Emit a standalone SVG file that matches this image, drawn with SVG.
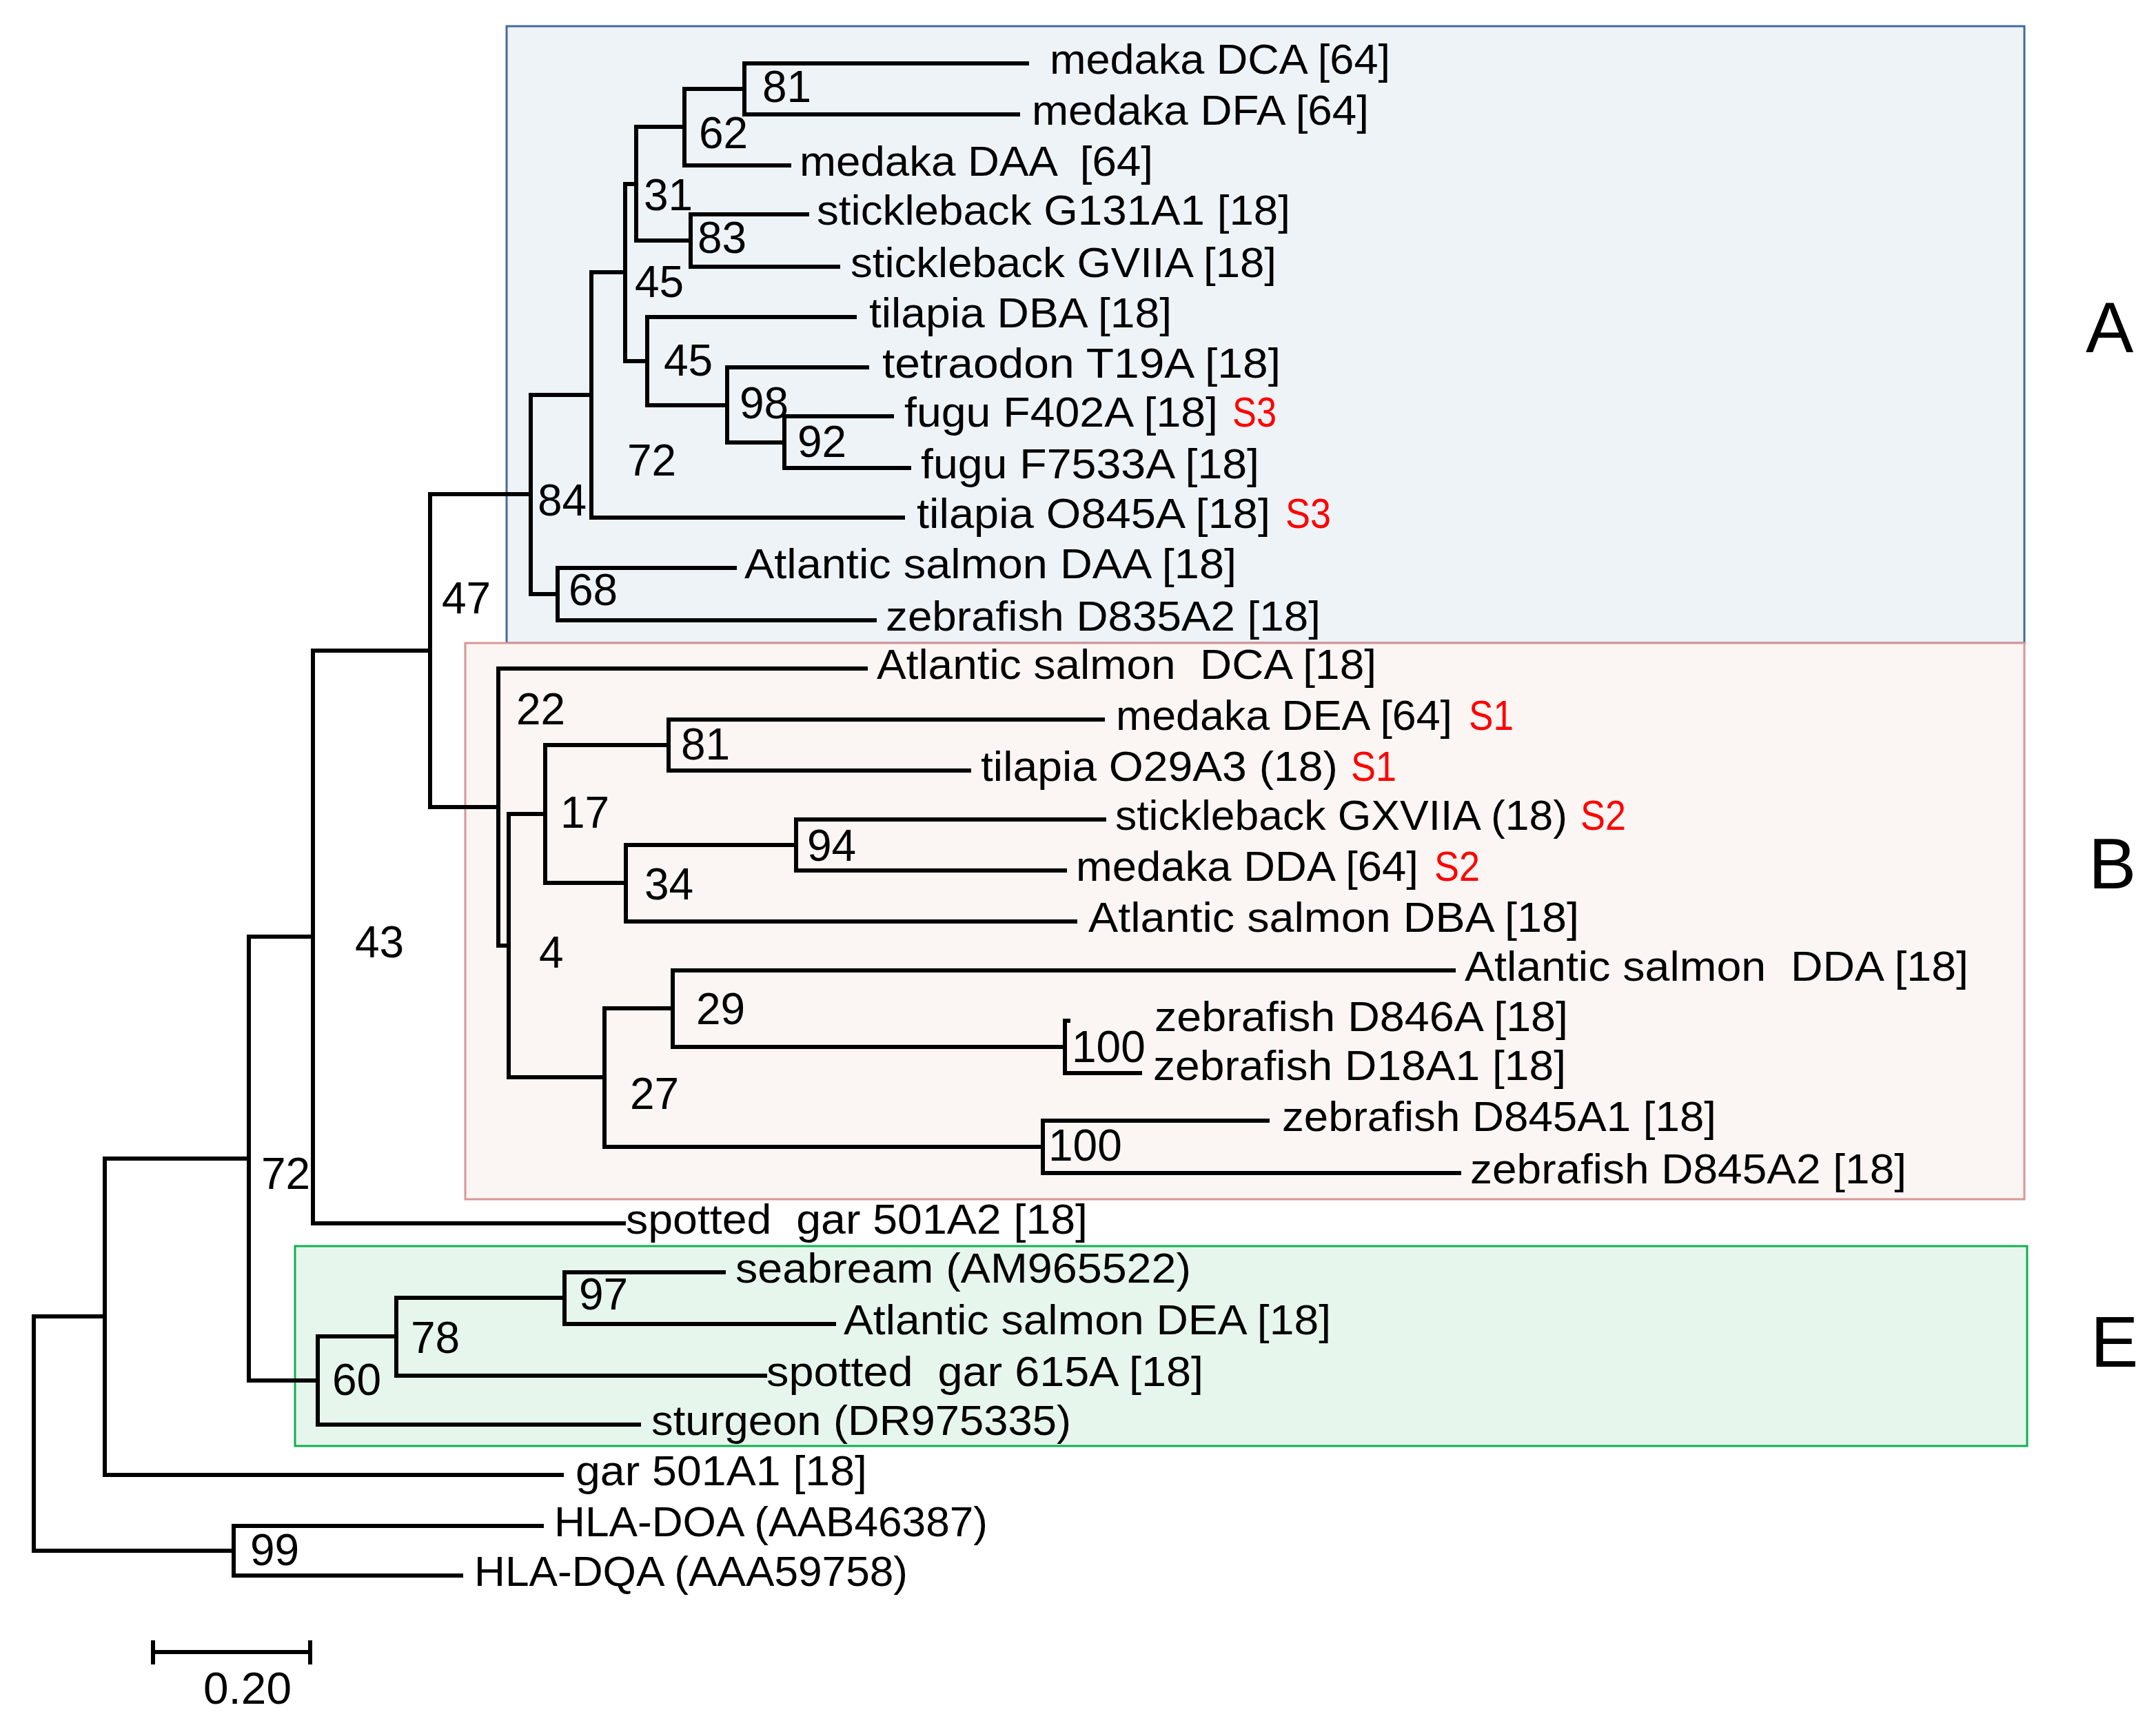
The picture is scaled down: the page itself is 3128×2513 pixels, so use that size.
<svg xmlns="http://www.w3.org/2000/svg" width="3128" height="2513" viewBox="0 0 3128 2513" xml:space="preserve">
<style>
text{font-family:"Liberation Sans",Arial,sans-serif;fill:#000;white-space:pre}
.lbl{font-size:61px}
.num{font-size:64px}
.red{font-size:61px;fill:#ff0000}
.clade{font-size:104px}
.br{fill:none;stroke:#000;stroke-width:6;stroke-linejoin:miter;stroke-linecap:square}
</style>
<rect width="3128" height="2513" fill="#ffffff"/>
<g id="clade-boxes">
<rect id="box-A" x="735" y="38" width="2202" height="895" fill="#eef3f8" stroke="#46699a" stroke-width="3"/>
<rect id="box-B" x="675" y="933" width="2262" height="807" fill="#fbf6f3" stroke="#da9696" stroke-width="3"/>
<rect id="box-E" x="428" y="1808" width="2513" height="290" fill="#e6f6ec" stroke="#10b050" stroke-width="3"/>
</g>
<g id="connectors">
<path class="br" d="M1490,92 H1080 V166 H1477"/>
<path class="br" d="M1080,129 H993 V240 H1145"/>
<path class="br" d="M1171,311 H1002 V387 H1216"/>
<path class="br" d="M993,184 H923 V349 H1002"/>
<path class="br" d="M1294,604 H1138 V679 H1319"/>
<path class="br" d="M1258,533 H1055 V642 H1138"/>
<path class="br" d="M1240,460 H939 V588 H1055"/>
<path class="br" d="M923,267 H907 V524 H939"/>
<path class="br" d="M907,395 H858 V751 H1310"/>
<path class="br" d="M1066,824 H809 V900 H1269"/>
<path class="br" d="M858,573 H770 V862 H809"/>
<path class="br" d="M1600,1044 H970 V1118 H1406"/>
<path class="br" d="M1602,1189 H1155 V1263 H1545"/>
<path class="br" d="M1155,1226 H908 V1337 H1560"/>
<path class="br" d="M970,1081 H791 V1281 H908"/>
<path class="br" d="M1550,1481 H1545 V1557 H1654"/>
<path class="br" d="M2109,1408 H976 V1519 H1545"/>
<path class="br" d="M1839,1626 H1513 V1702 H2117"/>
<path class="br" d="M976,1463 H877 V1664 H1513"/>
<path class="br" d="M791,1181 H738 V1563 H877"/>
<path class="br" d="M1256,970 H723 V1372 H738"/>
<path class="br" d="M770,717 H624 V1171 H723"/>
<path class="br" d="M624,944 H454 V1775 H905"/>
<path class="br" d="M1050,1846 H819 V1921 H1210"/>
<path class="br" d="M819,1883 H575 V1996 H1110"/>
<path class="br" d="M575,1939 H461 V2067 H927"/>
<path class="br" d="M454,1359 H361 V2003 H461"/>
<path class="br" d="M361,1681 H152 V2140 H815"/>
<path class="br" d="M786,2214 H339 V2286 H669"/>
<path class="br" d="M152,1910 H49 V2250 H339"/>
</g>
<g id="leaves">
<g id="leaf-medaka-DCA"><text class="lbl" x="1523" y="107" textLength="494" lengthAdjust="spacingAndGlyphs">medaka DCA [64]</text></g>
<g id="leaf-medaka-DFA"><text class="lbl" x="1497" y="181" textLength="489" lengthAdjust="spacingAndGlyphs">medaka DFA [64]</text></g>
<g id="leaf-medaka-DAA"><text class="lbl" x="1160" y="255" textLength="513" lengthAdjust="spacingAndGlyphs">medaka DAA  [64]</text></g>
<g id="leaf-stickleback-G131A1"><text class="lbl" x="1185" y="326" textLength="687" lengthAdjust="spacingAndGlyphs">stickleback G131A1 [18]</text></g>
<g id="leaf-stickleback-GVIIA"><text class="lbl" x="1234" y="402" textLength="618" lengthAdjust="spacingAndGlyphs">stickleback GVIIA [18]</text></g>
<g id="leaf-tilapia-DBA"><text class="lbl" x="1261" y="475" textLength="439" lengthAdjust="spacingAndGlyphs">tilapia DBA [18]</text></g>
<g id="leaf-tetraodon-T19A"><text class="lbl" x="1280" y="548" textLength="578" lengthAdjust="spacingAndGlyphs">tetraodon T19A [18]</text></g>
<g id="leaf-fugu-F402A"><text class="lbl" x="1312" y="619" textLength="455" lengthAdjust="spacingAndGlyphs">fugu F402A [18]</text><text class="red" x="1788" y="619" textLength="64" lengthAdjust="spacingAndGlyphs">S3</text></g>
<g id="leaf-fugu-F7533A"><text class="lbl" x="1336" y="694" textLength="491" lengthAdjust="spacingAndGlyphs">fugu F7533A [18]</text></g>
<g id="leaf-tilapia-O845A"><text class="lbl" x="1330" y="766" textLength="513" lengthAdjust="spacingAndGlyphs">tilapia O845A [18]</text><text class="red" x="1865" y="766" textLength="66" lengthAdjust="spacingAndGlyphs">S3</text></g>
<g id="leaf-salmon-DAA"><text class="lbl" x="1080" y="839" textLength="714" lengthAdjust="spacingAndGlyphs">Atlantic salmon DAA [18]</text></g>
<g id="leaf-zebrafish-D835A2"><text class="lbl" x="1285" y="915" textLength="631" lengthAdjust="spacingAndGlyphs">zebrafish D835A2 [18]</text></g>
<g id="leaf-salmon-DCA"><text class="lbl" x="1272" y="985" textLength="725" lengthAdjust="spacingAndGlyphs">Atlantic salmon  DCA [18]</text></g>
<g id="leaf-medaka-DEA"><text class="lbl" x="1619" y="1059" textLength="488" lengthAdjust="spacingAndGlyphs">medaka DEA [64]</text><text class="red" x="2131" y="1059" textLength="65" lengthAdjust="spacingAndGlyphs">S1</text></g>
<g id="leaf-tilapia-O29A3"><text class="lbl" x="1423" y="1133" textLength="518" lengthAdjust="spacingAndGlyphs">tilapia O29A3 (18)</text><text class="red" x="1960" y="1133" textLength="66" lengthAdjust="spacingAndGlyphs">S1</text></g>
<g id="leaf-stickleback-GXVIIA"><text class="lbl" x="1618" y="1204" textLength="656" lengthAdjust="spacingAndGlyphs">stickleback GXVIIA (18)</text><text class="red" x="2293" y="1204" textLength="66" lengthAdjust="spacingAndGlyphs">S2</text></g>
<g id="leaf-medaka-DDA"><text class="lbl" x="1561" y="1278" textLength="497" lengthAdjust="spacingAndGlyphs">medaka DDA [64]</text><text class="red" x="2081" y="1278" textLength="66" lengthAdjust="spacingAndGlyphs">S2</text></g>
<g id="leaf-salmon-DBA"><text class="lbl" x="1579" y="1352" textLength="712" lengthAdjust="spacingAndGlyphs">Atlantic salmon DBA [18]</text></g>
<g id="leaf-salmon-DDA"><text class="lbl" x="2125" y="1423" textLength="731" lengthAdjust="spacingAndGlyphs">Atlantic salmon  DDA [18]</text></g>
<g id="leaf-zebrafish-D846A"><text class="lbl" x="1675" y="1496" textLength="600" lengthAdjust="spacingAndGlyphs">zebrafish D846A [18]</text></g>
<g id="leaf-zebrafish-D18A1"><text class="lbl" x="1673" y="1567" textLength="599" lengthAdjust="spacingAndGlyphs">zebrafish D18A1 [18]</text></g>
<g id="leaf-zebrafish-D845A1"><text class="lbl" x="1860" y="1641" textLength="630" lengthAdjust="spacingAndGlyphs">zebrafish D845A1 [18]</text></g>
<g id="leaf-zebrafish-D845A2"><text class="lbl" x="2133" y="1717" textLength="633" lengthAdjust="spacingAndGlyphs">zebrafish D845A2 [18]</text></g>
<g id="leaf-spotted-gar-501A2"><text class="lbl" x="908" y="1790" textLength="670" lengthAdjust="spacingAndGlyphs">spotted  gar 501A2 [18]</text></g>
<g id="leaf-seabream"><text class="lbl" x="1067" y="1861" textLength="661" lengthAdjust="spacingAndGlyphs">seabream (AM965522)</text></g>
<g id="leaf-salmon-DEA"><text class="lbl" x="1224" y="1936" textLength="707" lengthAdjust="spacingAndGlyphs">Atlantic salmon DEA [18]</text></g>
<g id="leaf-spotted-gar-615A"><text class="lbl" x="1112" y="2011" textLength="634" lengthAdjust="spacingAndGlyphs">spotted  gar 615A [18]</text></g>
<g id="leaf-sturgeon"><text class="lbl" x="945" y="2082" textLength="609" lengthAdjust="spacingAndGlyphs">sturgeon (DR975335)</text></g>
<g id="leaf-gar-501A1"><text class="lbl" x="835" y="2155" textLength="423" lengthAdjust="spacingAndGlyphs">gar 501A1 [18]</text></g>
<g id="leaf-HLA-DOA"><text class="lbl" x="804" y="2229" textLength="629" lengthAdjust="spacingAndGlyphs">HLA-DOA (AAB46387)</text></g>
<g id="leaf-HLA-DQA"><text class="lbl" x="688" y="2301" textLength="629" lengthAdjust="spacingAndGlyphs">HLA-DQA (AAA59758)</text></g>
</g>
<g id="support-values">
<text class="num" x="1106" y="148">81</text>
<text class="num" x="1014" y="215">62</text>
<text class="num" x="934" y="305">31</text>
<text class="num" x="1012" y="367">83</text>
<text class="num" x="921" y="431">45</text>
<text class="num" x="963" y="545">45</text>
<text class="num" x="1073" y="607">98</text>
<text class="num" x="1157" y="663">92</text>
<text class="num" x="910" y="690">72</text>
<text class="num" x="780" y="748">84</text>
<text class="num" x="825" y="878">68</text>
<text class="num" x="641" y="890">47</text>
<text class="num" x="749" y="1051">22</text>
<text class="num" x="988" y="1102">81</text>
<text class="num" x="813" y="1201">17</text>
<text class="num" x="1171" y="1249">94</text>
<text class="num" x="935" y="1305">34</text>
<text class="num" x="782" y="1404">4</text>
<text class="num" x="1010" y="1486">29</text>
<text class="num" x="1555" y="1541">100</text>
<text class="num" x="914" y="1609">27</text>
<text class="num" x="1521" y="1684">100</text>
<text class="num" x="515" y="1389">43</text>
<text class="num" x="379" y="1725">72</text>
<text class="num" x="840" y="1900">97</text>
<text class="num" x="596" y="1963">78</text>
<text class="num" x="482" y="2024">60</text>
<text class="num" x="363" y="2271">99</text>
</g>
<g id="clade-labels">
<text class="clade" x="3026" y="511">A</text>
<text class="clade" x="3030" y="1289">B</text>
<text class="clade" x="3033" y="1983">E</text>
</g>
<g id="scale-bar">
<path class="br" d="M222,2397 H450 M222,2383 V2412 M450,2383 V2412" stroke-width="5"/>
<text class="num" x="295" y="2472" textLength="128" lengthAdjust="spacingAndGlyphs">0.20</text>
</g>
</svg>
